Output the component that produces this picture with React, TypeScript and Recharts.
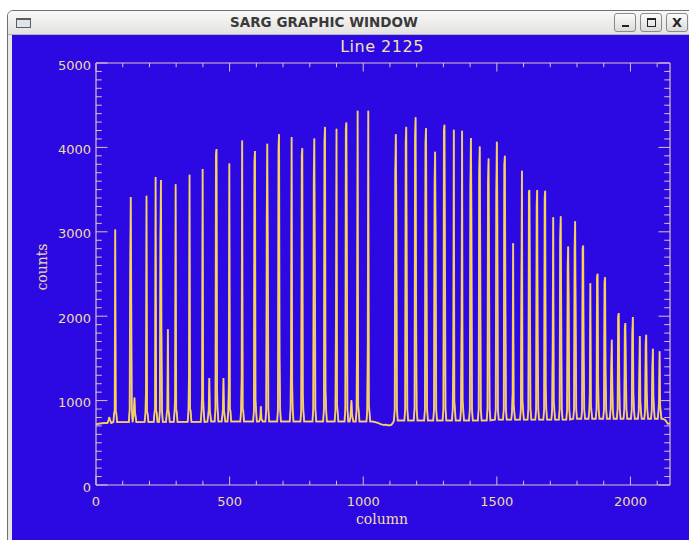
import React from 'react';
import { LineChart, Line, XAxis, YAxis } from 'recharts';

// ---- data: cross-dispersion cut of a SARG frame (row 2125) ----

// Continuum samples away from the orders (start, inter-order gap, end of row)
const continuumColumns = [0, 15, 30, 1035, 1045, 1055, 1065, 1075, 1085, 1095, 1105, 1112, 2120, 2130, 2140, 2148];
const continuumCounts = [720, 728, 735, 752, 745, 735, 722, 712, 715, 705, 712, 740, 785, 770, 725, 730];

// One entry per order crossing the row
const peakColumns = [
  50, 72, 130, 144, 189, 223, 243, 269, 298, 350,
  399, 424, 451, 477, 499, 547, 595, 617, 641, 685,
  732, 772, 817, 857, 900, 937, 956, 979, 1019, 1122,
  1161, 1196, 1235, 1269, 1304, 1339, 1370, 1403, 1436, 1469,
  1500, 1530, 1561, 1594, 1622, 1651, 1681, 1711, 1739, 1767,
  1793, 1823, 1850, 1877, 1905, 1930, 1956, 1981, 2009, 2035,
  2059, 2084, 2109,
];
const peakTops = [
  805, 3026, 3412, 1037, 3428, 3649, 3613, 1844, 3562, 3676,
  3743, 1269, 3980, 1269, 3810, 4082, 3956, 934, 4043, 4157,
  4122, 3991, 4106, 4243, 4220, 4295, 1005, 4433, 4433, 4157,
  4243, 4358, 4228, 3948, 4267, 4208, 4196, 4110, 4011, 3869,
  4066, 3901, 2864, 3723, 3495, 3495, 3487, 3172, 3183, 2825,
  3124, 2837, 2391, 2502, 2462, 1722, 2037, 1919, 1990, 1765,
  1781, 1615, 1584,
];
// level reached on the rising side of each order
const peakRise = [
  780, 887, 2502, 900, 1103, 900, 2923, 900, 1025, 1308,
  1060, 900, 3915, 900, 1202, 1280, 3830, 800, 3152, 4000,
  1478, 3900, 3625, 4080, 1990, 4225, 900, 1781, 1675, 3684,
  4060, 4100, 4060, 3566, 4200, 1497, 1970, 3526, 3704, 3566,
  3448, 3790, 1096, 2423, 3470, 3310, 3400, 1720, 2916, 2580,
  2778, 2800, 1096, 2460, 2400, 1359, 1990, 1860, 1793, 1300,
  1670, 1400, 1000,
];
// level reached on the falling side of each order
const peakFall = [
  770, 870, 2096, 860, 865, 880, 1812, 880, 900, 900,
  1025, 880, 1103, 880, 900, 900, 1010, 790, 2719, 1517,
  1220, 1060, 2580, 1120, 950, 2435, 850, 950, 950, 3132,
  2332, 1930, 2502, 2955, 2580, 1000, 1000, 3191, 2672, 2435,
  3152, 2325, 950, 1000, 2096, 1714, 1182, 1000, 2041, 2108,
  2030, 1576, 950, 1221, 1348, 1221, 1300, 1310, 1100, 1000,
  1100, 1050, 950,
];
// wing level at the foot of each order
const peakShoulder = [
  760, 850, 900, 820, 850, 860, 880, 850, 870, 880,
  880, 830, 900, 830, 880, 880, 880, 770, 900, 900,
  900, 880, 900, 900, 880, 900, 800, 880, 880, 900,
  900, 900, 900, 900, 900, 900, 900, 900, 900, 900,
  900, 900, 880, 900, 900, 900, 900, 900, 900, 900,
  900, 900, 880, 900, 900, 900, 900, 900, 900, 880,
  900, 900, 880,
];
// local background under each order
const peakBase = [
  735, 745, 745, 745, 748, 748, 748, 748, 748, 748,
  748, 752, 752, 752, 752, 752, 752, 752, 752, 752,
  752, 752, 752, 752, 752, 752, 752, 752, 752, 765,
  765, 765, 765, 765, 765, 765, 765, 765, 765, 765,
  775, 775, 775, 775, 775, 775, 775, 775, 775, 775,
  785, 785, 785, 785, 785, 785, 785, 785, 785, 785,
  785, 785, 785,
];
// column offsets at which each order profile is sampled
const profileOffsets = [-7, -4, -2, 0, 2, 4, 7];

const xTicks = [0, 100, 200, 300, 400, 500, 600, 700, 800, 900, 1000, 1100, 1200, 1300, 1400, 1500, 1600, 1700, 1800, 1900, 2000, 2100];
const yTicks = [
  0, 100, 200, 300, 400, 500, 600, 700, 800, 900, 1000, 1100, 1200, 1300, 1400, 1500, 1600, 1700, 1800, 1900,
  2000, 2100, 2200, 2300, 2400, 2500, 2600, 2700, 2800, 2900, 3000, 3100, 3200, 3300, 3400, 3500, 3600, 3700, 3800, 3900,
  4000, 4100, 4200, 4300, 4400, 4500, 4600, 4700, 4800, 4900, 5000,
];

type Pt = { column: number; counts: number };
const spectrum: Pt[] = (() => {
  const pts: Pt[] = continuumColumns.map((c, i) => ({ column: c, counts: continuumCounts[i] }));
  peakColumns.forEach((c, i) => {
    const levels = [peakBase[i], peakShoulder[i], peakRise[i], peakTops[i], peakFall[i], peakShoulder[i], peakBase[i]];
    profileOffsets.forEach((o, k) => pts.push({ column: c + o, counts: levels[k] }));
  });
  return pts.sort((a, b) => a.column - b.column);
})();

// ---- styling ----
const BLUE = '#2c08e2';
const AXIS = '#dcc2c6';
const LABEL = '#eedca6';
const PLOT = { left: 96, right: 670, top: 63, bottom: 485 };
const CW = 689;
const CH = 540;
const X_TICK_MAJOR = 8.5;
const Y_TICK_MAJOR = 11.5;

const BottomTick = (p: any) => {
  const v = p.payload.value;
  const major = v % 500 === 0;
  return (
    <g>
      <line x1={p.x} x2={p.x} y1={p.y} y2={p.y - (major ? X_TICK_MAJOR : X_TICK_MAJOR / 2)} stroke={AXIS} strokeWidth={1} />
      {major && (
        <text x={p.x} y={p.y + 16} textAnchor="middle" dominantBaseline="central" fill={LABEL}
          style={{ fontFamily: 'DejaVu Sans', fontSize: 13 }}>{v}</text>
      )}
    </g>
  );
};
const TopTick = (p: any) => {
  const major = p.payload.value % 500 === 0;
  return <line x1={p.x} x2={p.x} y1={p.y} y2={p.y + (major ? X_TICK_MAJOR : X_TICK_MAJOR / 2)} stroke={AXIS} strokeWidth={1} />;
};
const LeftTick = (p: any) => {
  const v = p.payload.value;
  const major = v % 1000 === 0;
  return (
    <g>
      <line x1={p.x} x2={p.x + (major ? Y_TICK_MAJOR : Y_TICK_MAJOR / 2)} y1={p.y} y2={p.y} stroke={AXIS} strokeWidth={1} />
      {major && (
        <text x={p.x - 5} y={p.y + 2} textAnchor="end" dominantBaseline="central" fill={LABEL}
          style={{ fontFamily: 'DejaVu Sans', fontSize: 13 }}>{v}</text>
      )}
    </g>
  );
};
const RightTick = (p: any) => {
  const major = p.payload.value % 1000 === 0;
  return <line x1={p.x} x2={p.x - (major ? Y_TICK_MAJOR : Y_TICK_MAJOR / 2)} y1={p.y} y2={p.y} stroke={AXIS} strokeWidth={1} />;
};

const btn = (left: number): React.CSSProperties => ({
  position: 'absolute', left, top: 13, width: 22, height: 19, boxSizing: 'border-box',
  border: '1px solid #8a8a8a', borderRadius: 3, background: 'linear-gradient(#fcfcfc, #dadad8)',
});

export default function App() {
  const leftW = 40;
  const bottomH = 30;
  return (
    <div style={{ position: 'fixed', left: 0, top: 0, width: CW, height: CH, overflow: 'hidden', background: '#ffffff' }}>
      {/* window frame */}
      <div style={{ position: 'absolute', left: 7, top: 10, width: 720, height: 600, boxSizing: 'border-box', border: '1px solid #707070', borderTopLeftRadius: 6, background: '#e9e8e6' }} />
      <div style={{ position: 'absolute', left: 8, top: 11, width: 720, height: 23, borderTopLeftRadius: 5, background: 'linear-gradient(#f9f9f8, #e3e2e0)' }} />
      <div style={{ position: 'absolute', left: 8, top: 34, width: 720, height: 1, background: '#b5b4b2' }} />
      {/* window icon */}
      <div style={{ position: 'absolute', left: 16, top: 18, width: 15, height: 10, boxSizing: 'border-box', border: '1px solid #5c5c5c', borderTopWidth: 2, background: '#dfe5ea' }} />
      {/* title */}
      <div style={{ position: 'absolute', left: 174, top: 14, width: 300, textAlign: 'center', fontFamily: 'DejaVu Sans', fontWeight: 'bold', fontSize: 13.5, lineHeight: '16px', color: '#3a3a3a' }}>
        SARG GRAPHIC WINDOW
      </div>
      {/* window buttons */}
      <div style={btn(614)}>
        <div style={{ position: 'absolute', left: 7, top: 11, width: 7, height: 2, background: '#222' }} />
      </div>
      <div style={btn(640)}>
        <div style={{ position: 'absolute', left: 6, top: 4, width: 9, height: 9, boxSizing: 'border-box', border: '1px solid #222', borderTopWidth: 2 }} />
      </div>
      <div style={btn(666)}>
        <div style={{ position: 'absolute', left: 0, top: 0, width: 20, textAlign: 'center', fontFamily: 'DejaVu Sans', fontWeight: 'bold', fontSize: 13, lineHeight: '17px', color: '#222' }}>X</div>
      </div>
      {/* plot window */}
      <div style={{ position: 'absolute', left: 12, top: 35, width: 700, height: 520, background: BLUE }} />

      <div style={{ position: 'absolute', left: 282, top: 38, width: 200, textAlign: 'center', fontFamily: 'DejaVu Sans', fontSize: 16, lineHeight: '18px', letterSpacing: 0.5, color: '#f1e2b6' }}>
        Line 2125
      </div>
      <div style={{ position: 'absolute', left: 282, top: 510, width: 200, textAlign: 'center', fontFamily: 'DejaVu Serif', fontSize: 14, lineHeight: '18px', color: LABEL }}>
        column
      </div>
      <div style={{ position: 'absolute', left: 12, top: 258, width: 60, height: 18, textAlign: 'center', fontFamily: 'DejaVu Serif', fontSize: 14, lineHeight: '18px', color: LABEL, transform: 'rotate(-90deg)' }}>
        counts
      </div>

      <div style={{ position: 'absolute', left: 0, top: 0 }}>
        <LineChart
          width={CW}
          height={CH}
          data={spectrum}
          margin={{ top: PLOT.top - 1, right: CW - PLOT.right - 1, bottom: CH - PLOT.bottom - bottomH, left: PLOT.left - leftW }}
        >
          <XAxis xAxisId="b" type="number" dataKey="column" domain={[0, 2148]} allowDataOverflow ticks={xTicks} interval={0}
            height={bottomH} tickSize={0} tickMargin={0} tickLine={false} axisLine={{ stroke: AXIS, strokeWidth: 1.2 }} tick={<BottomTick />} />
          <XAxis xAxisId="t" orientation="top" type="number" dataKey="column" domain={[0, 2148]} allowDataOverflow ticks={xTicks} interval={0}
            height={1} tickSize={0} tickMargin={0} tickLine={false} axisLine={{ stroke: AXIS, strokeWidth: 1.2 }} tick={<TopTick />} />
          <YAxis yAxisId="l" type="number" domain={[0, 5000]} allowDataOverflow ticks={yTicks} interval={0}
            width={leftW} tickSize={0} tickMargin={0} tickLine={false} axisLine={{ stroke: AXIS, strokeWidth: 1.2 }} tick={<LeftTick />} />
          <YAxis yAxisId="r" orientation="right" type="number" domain={[0, 5000]} allowDataOverflow ticks={yTicks} interval={0}
            width={1} tickSize={0} tickMargin={0} tickLine={false} axisLine={{ stroke: AXIS, strokeWidth: 1.2 }} tick={<RightTick />} />
          <Line xAxisId="t" yAxisId="r" type="linear" dataKey="counts" stroke="#d6b0bf" strokeWidth={1.9} dot={false} isAnimationActive={false} />
          <Line xAxisId="b" yAxisId="l" type="linear" dataKey="counts" stroke="#ffd83a" strokeWidth={1.1} dot={false} isAnimationActive={false} />
        </LineChart>
      </div>
    </div>
  );
}
